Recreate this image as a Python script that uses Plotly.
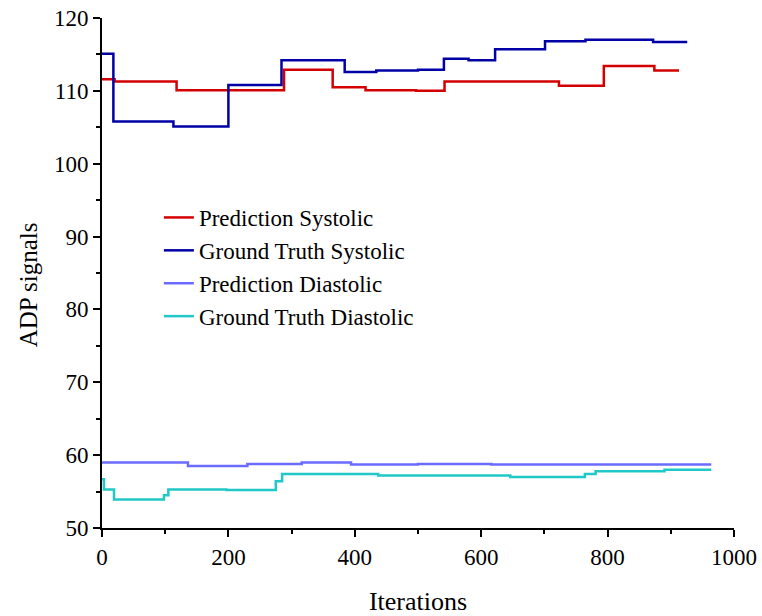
import plotly.graph_objects as go

# Data
pred_sys_x = [0, 20, 118, 288, 365, 417, 497, 542, 723, 794, 874, 913]
pred_sys_y = [111.6, 111.3, 110.1, 112.9, 110.5, 110.1, 110.0, 111.3, 110.7, 113.4, 112.8, 112.8]

gt_sys_x = [0, 18, 113, 200, 284, 384, 434, 500, 541, 580, 622, 701, 765, 872, 926]
gt_sys_y = [115.1, 105.8, 105.1, 110.8, 114.2, 112.6, 112.8, 112.9, 114.4, 114.2, 115.7, 116.8, 117.0, 116.7, 116.7]

pred_dia_x = [0, 136, 230, 316, 394, 500, 616, 964]
pred_dia_y = [59.0, 58.5, 58.8, 59.0, 58.7, 58.8, 58.7, 58.7]

gt_dia_x = [0, 3, 19, 98, 105, 197, 275, 285, 353, 437, 646, 764, 781, 890, 964]
gt_dia_y = [56.7, 55.3, 53.9, 54.5, 55.3, 55.2, 56.4, 57.4, 57.4, 57.2, 57.0, 57.4, 57.8, 58.0, 58.0]

series = [
    ("Prediction Systolic", pred_sys_x, pred_sys_y, "#d40000"),
    ("Ground Truth Systolic", gt_sys_x, gt_sys_y, "#0000a6"),
    ("Prediction Diastolic", pred_dia_x, pred_dia_y, "#6b6bff"),
    ("Ground Truth Diastolic", gt_dia_x, gt_dia_y, "#20c8c8"),
]

FONT = "Liberation Serif, Times New Roman, serif"

fig = go.Figure()
for i, (name, xs, ys, col) in enumerate(series):
    fig.add_trace(go.Scatter(
        x=xs, y=ys, mode="lines", name=name,
        line=dict(color=col, width=2.5, shape="hv"),
        legendgroup=f"g{i}",
    ))

axis_common = dict(
    showline=True, linecolor="black", linewidth=2,
    ticks="outside", ticklen=7, tickwidth=2, tickcolor="black",
    showgrid=False, zeroline=False, mirror=False, automargin=False,
    tickfont=dict(family=FONT, size=23, color="black"),
)

fig.update_xaxes(
    range=[0, 1000], dtick=200, tick0=0,
    minor=dict(dtick=100, ticks="outside", ticklen=4, tickwidth=2, tickcolor="black"),
    title=dict(text="Iterations", font=dict(family=FONT, size=26, color="black"), standoff=24),
    **axis_common,
)
fig.update_yaxes(
    range=[50, 120], dtick=10, tick0=50,
    minor=dict(dtick=5, ticks="outside", ticklen=4, tickwidth=2, tickcolor="black"),
    **axis_common,
)

fig.update_layout(
    width=762, height=616,
    margin=dict(l=102, r=28, t=18, b=88),
    paper_bgcolor="white", plot_bgcolor="white",
    font=dict(family=FONT, color="black"),
    legend=dict(
        x=0.09, y=0.651, xanchor="left", yanchor="top",
        font=dict(family=FONT, size=23, color="black"),
        bgcolor="rgba(0,0,0,0)", tracegroupgap=0,
        traceorder="normal",
    ),
    showlegend=True,
    annotations=[dict(
        text="ADP signals", textangle=-90, showarrow=False,
        xref="paper", yref="paper", x=-0.117, y=0.476,
        xanchor="center", yanchor="middle",
        font=dict(family=FONT, size=25, color="black"),
    )],
)

fig.write_html("out.html")
